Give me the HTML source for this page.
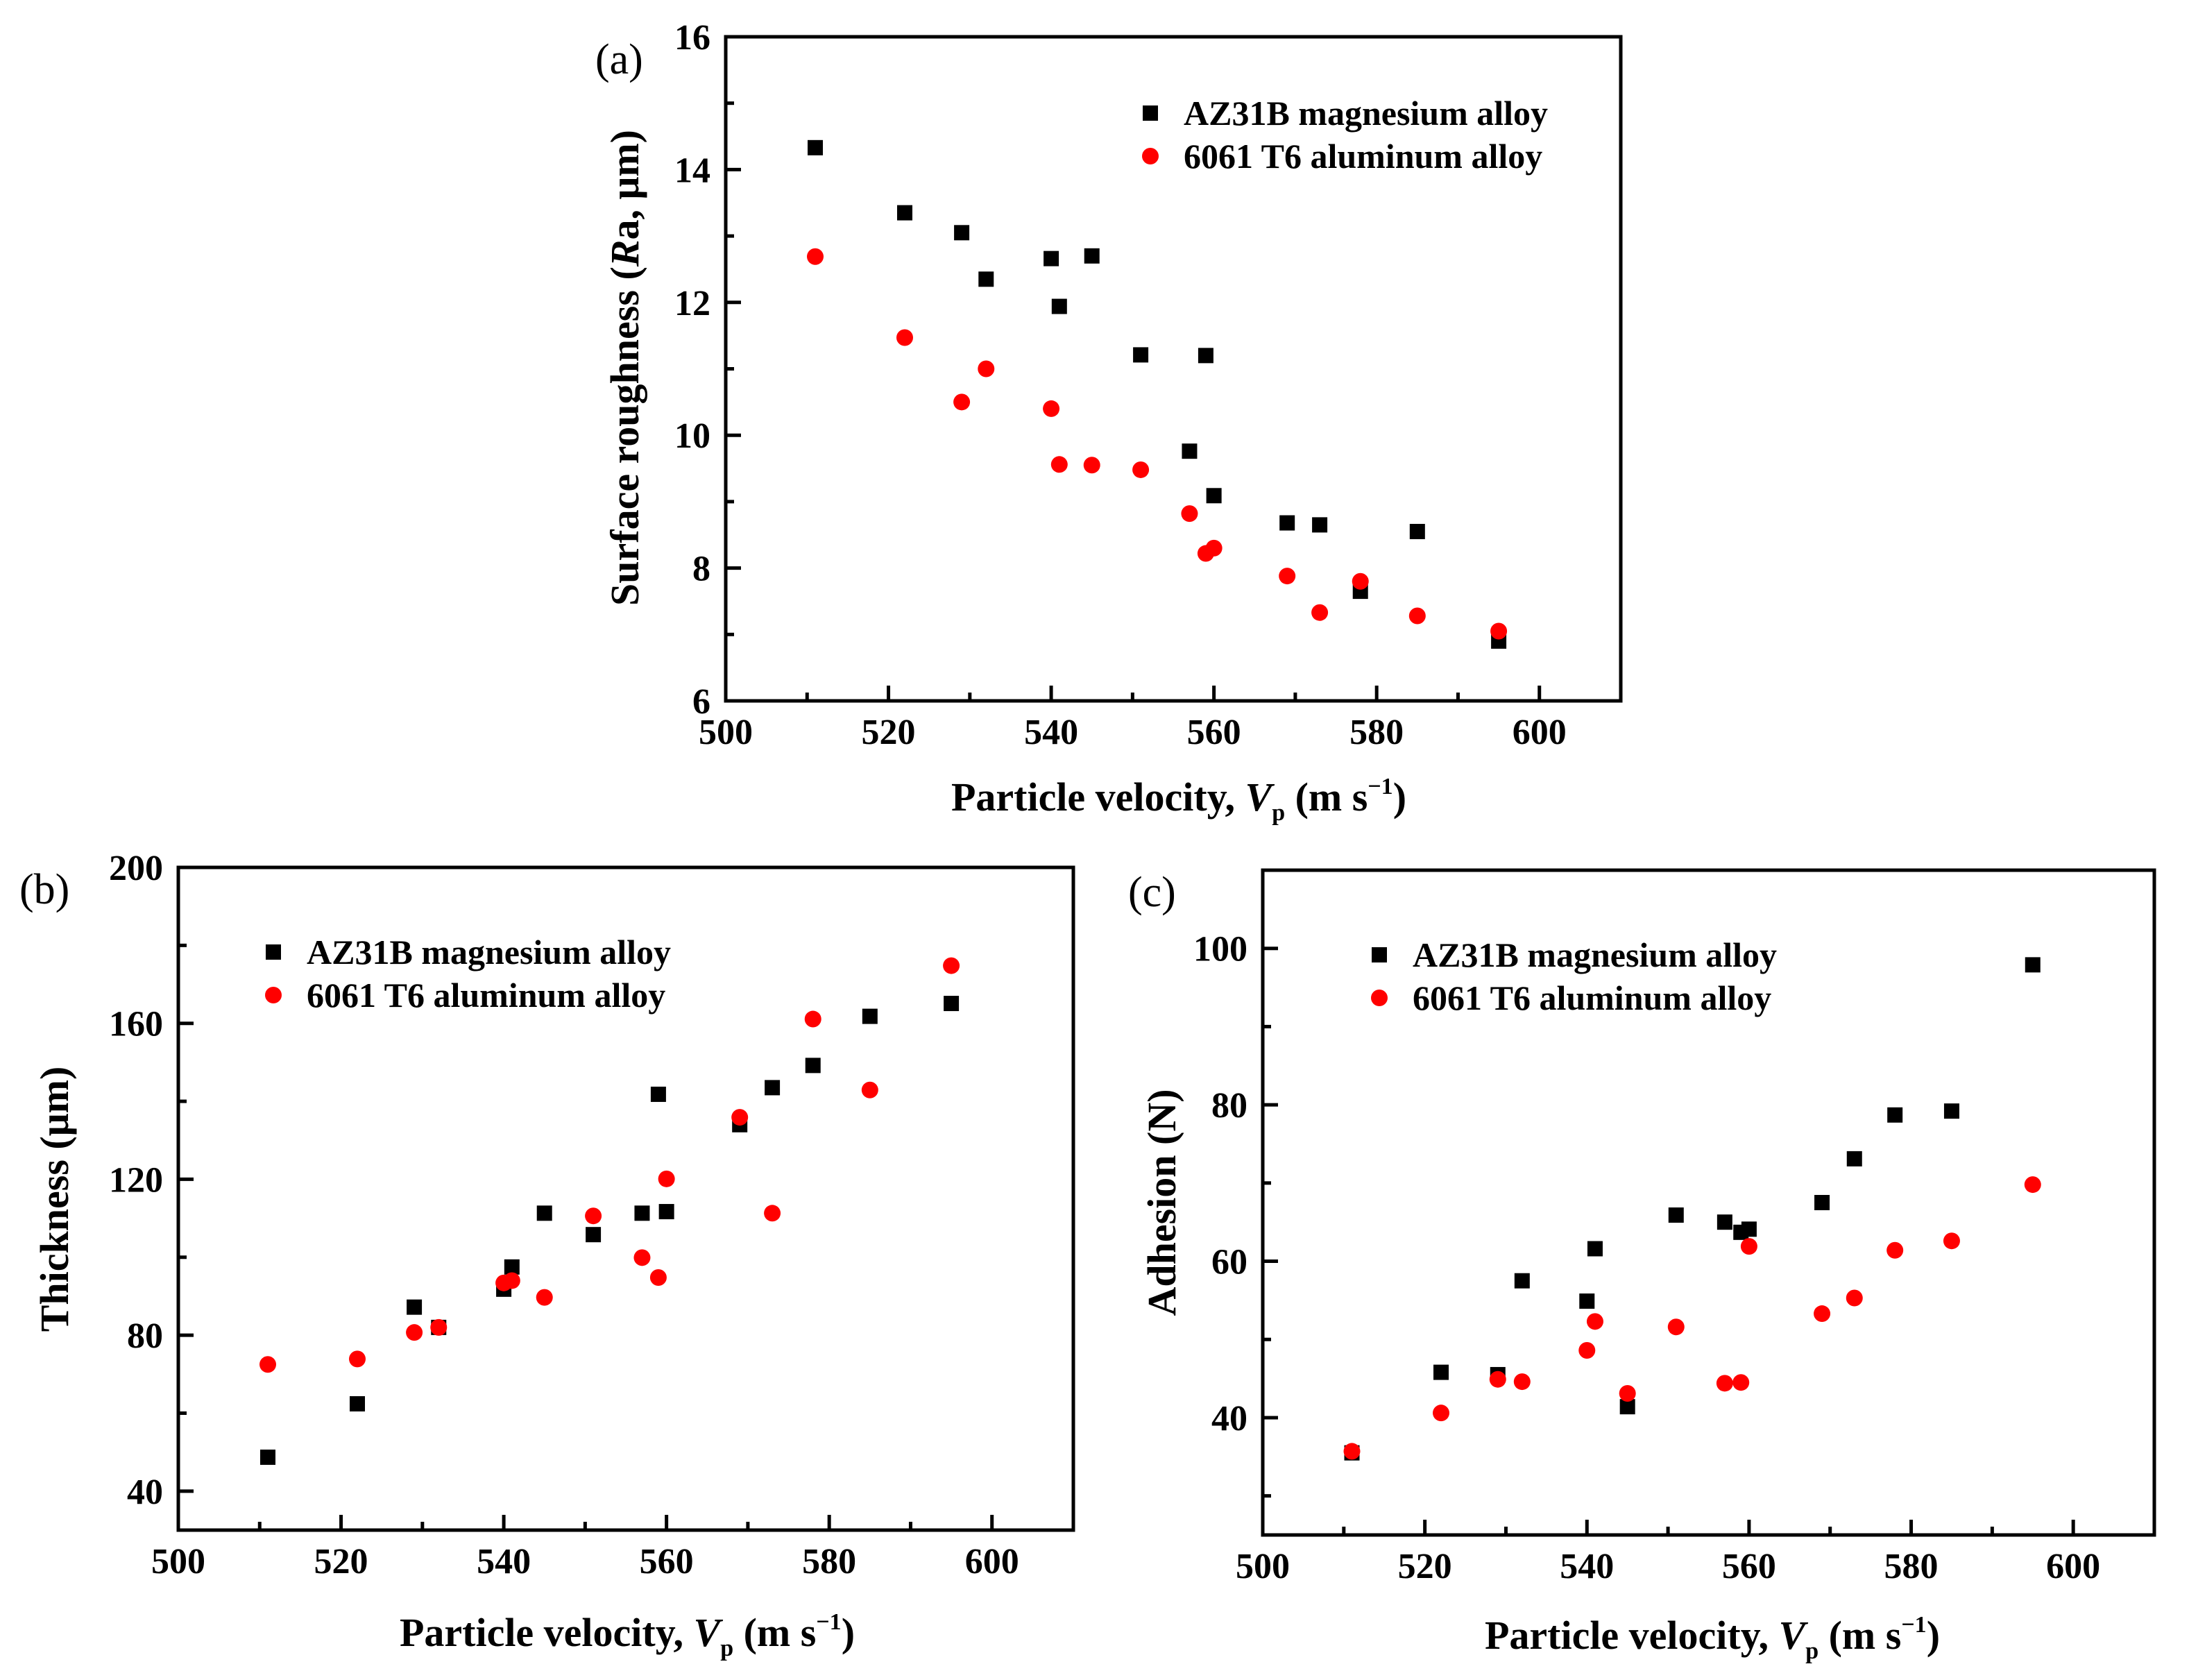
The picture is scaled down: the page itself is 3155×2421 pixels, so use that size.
<!DOCTYPE html>
<html><head><meta charset="utf-8"><style>
html,body{margin:0;padding:0;background:#fff}
svg{display:block}
text{font-family:"Liberation Serif","Times New Roman",serif}
</style></head><body>
<svg id="fig" width="3155" height="2421" viewBox="0 0 3155 2421" xmlns="http://www.w3.org/2000/svg" font-family="Liberation Serif, serif">
</svg>
<script>
const xVel = [511,522,529,532,540,541,545,551,557,559,560,569,573,578,585,595];
const roughMg = [14.33,13.35,13.05,12.35,12.66,11.94,12.70,11.21,9.76,11.20,9.09,8.68,8.65,7.65,8.55,6.90];
const roughAl = [12.69,11.47,10.50,11.00,10.40,9.56,9.55,9.48,8.82,8.22,8.30,7.88,7.33,7.80,7.28,7.05];
const thickMg = [48.7,62.4,87.2,82.0,91.8,97.5,111.3,105.8,111.3,141.8,111.7,134.0,143.5,149.2,161.8,165.1];
const thickAl = [72.5,73.9,80.7,82.0,93.4,94.0,89.7,110.6,99.9,94.8,120.1,135.9,111.3,161.1,142.9,174.8];
const adhMg = [35.5,45.8,45.5,57.5,54.9,61.6,41.4,65.9,65.0,63.7,64.1,67.5,73.1,78.7,79.2,97.9];
const adhAl = [35.7,40.6,44.9,44.6,48.6,52.3,43.1,51.6,44.4,44.5,61.9,53.3,55.3,61.4,62.6,69.8];
const xTicks = [500,520,540,560,580,600];
const yTicksA = [6,8,10,12,14,16];
const yTicksB = [40,80,120,160,200];
const yTicksC = [40,60,80,100];

const NS="http://www.w3.org/2000/svg";
const svg=document.getElementById('fig');
function el(tag,attrs,parent){const e=document.createElementNS(NS,tag);for(const k in attrs)e.setAttribute(k,attrs[k]);(parent||svg).appendChild(e);return e;}
const FF='Liberation Serif, Times New Roman, serif';

function panel(cfg){
  const g=el('g',{'font-family':FF});
  
  
  const X=v=>cfg.L+(v-500)/110*(cfg.R-cfg.L);
  const Y=v=>cfg.B-(v-cfg.ymin)/(cfg.ymax-cfg.ymin)*(cfg.B-cfg.T);
  for(let v=500;v<=610;v+=10){
    const major=v%20===0;
    const t=el('line',{x1:X(v),x2:X(v),y1:cfg.B,y2:cfg.B-(major?22:12),stroke:'#000','stroke-width':5},g);
    
    
  }
  for(let v=Math.ceil(cfg.ymin/cfg.minor)*cfg.minor;v<=cfg.ymax;v+=cfg.minor){
    const major=cfg.yTicks.includes(v);
    const t=el('line',{x1:cfg.L,x2:cfg.L+(major?22:12),y1:Y(v),y2:Y(v),stroke:'#000','stroke-width':5},g);
    
    
  }
  const box=el('rect',{x:cfg.L,y:cfg.T,width:cfg.R-cfg.L,height:cfg.B-cfg.T,fill:'none',stroke:'#000','stroke-width':5},g);
  
  
  xTicks.forEach(v=>{
    const t=el('text',{x:X(v),y:cfg.B+62,'text-anchor':'middle','font-size':52,'font-weight':'bold','font-family':FF},g);
    t.textContent=v;
    
    
  });
  cfg.yTicks.forEach(v=>{
    const t=el('text',{x:cfg.L-22,y:Y(v)+18,'text-anchor':'end','font-size':52,'font-weight':'bold','font-family':FF},g);
    t.textContent=v;
    
    
  });
  xVel.forEach((xv,i)=>{
    const s=el('rect',{x:X(xv)-11,y:Y(cfg.mg[i])-11,width:22,height:22,fill:'#000'},g);
    
    
  });
  xVel.forEach((xv,i)=>{
    const c=el('ellipse',{cx:X(xv),cy:Y(cfg.al[i]),rx:12,ry:12,fill:'#ff0000'},g);
    
    
  });
  const xt=el('text',{x:cfg.xtX,y:cfg.xtY,'text-anchor':'middle','font-size':58,'font-weight':'bold','font-family':FF},g);
  
  
  xt.innerHTML='Particle velocity, <tspan font-style="italic">V</tspan><tspan font-size="34" dy="14">p</tspan><tspan dy="-14"> (m s</tspan><tspan font-size="34" dy="-24">−1</tspan><tspan dy="24">)</tspan>';
  const yt=el('text',{x:0,y:0,'text-anchor':'middle','font-size':58,'font-weight':'bold','font-family':FF,transform:`translate(${cfg.ytX},${cfg.ytY}) rotate(-90)`},g);
  
  
  yt.innerHTML=cfg.ytitle;
  const pl=el('text',{x:cfg.plX,y:cfg.plY,'font-size':62,'font-family':FF},g);
  pl.textContent='('+cfg.id+')';
  
  
  const ls=el('rect',{x:cfg.lgX-11,y:cfg.lgY-11,width:22,height:22,fill:'#000'},g);
  
  
  const lt1=el('text',{x:cfg.lgX+48,y:cfg.lgY+17,'font-size':50,'font-weight':'bold','font-family':FF},g);
  lt1.textContent='AZ31B magnesium alloy';
  
  
  const lc=el('ellipse',{cx:cfg.lgX,cy:cfg.lgY+62,rx:12,ry:12,fill:'#ff0000'},g);
  
  
  const lt2=el('text',{x:cfg.lgX+48,y:cfg.lgY+79,'font-size':50,'font-weight':'bold','font-family':FF},g);
  lt2.textContent='6061 T6 aluminum alloy';
  
  
}

panel({id:'a',L:1046,R:2336,T:53,B:1010,ymin:6,ymax:16,minor:1,yTicks:yTicksA,mg:roughMg,al:roughAl,
  xtX:1699,xtY:1168,ytX:920,ytY:530,ytitle:'Surface roughness (<tspan font-style="italic">R</tspan>a, μm)',
  plX:858,plY:106,lgX:1658,lgY:163});
panel({id:'b',L:257,R:1547,T:1250,B:2205,ymin:30,ymax:200,minor:20,yTicks:yTicksB,mg:thickMg,al:thickAl,
  xtX:904,xtY:2372,ytX:98,ytY:1728,ytitle:'Thickness (μm)',
  plX:28,plY:1302,lgX:394,lgY:1372});
panel({id:'c',L:1820,R:3105,T:1254,B:2212,ymin:25,ymax:110,minor:10,yTicks:yTicksC,mg:adhMg,al:adhAl,
  xtX:2468,xtY:2376,ytX:1694,ytY:1733,ytitle:'Adhesion (N)',
  plX:1626,plY:1306,lgX:1988,lgY:1376});
</script>
</body></html>
